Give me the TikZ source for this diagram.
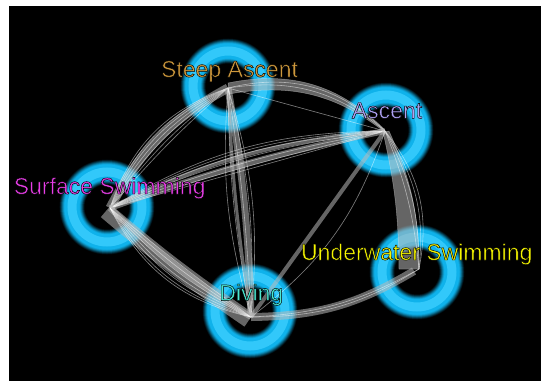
\documentclass[tikz,border=0pt]{standalone}
\usepackage{fontspec}
\setmainfont{Liberation Sans}
\usetikzlibrary{calc}
\definecolor{ringc}{RGB}{15,178,235}
\definecolor{ringhi}{RGB}{50,200,250}
\definecolor{bandgray}{RGB}{185,185,185}
\definecolor{cSA}{RGB}{205,152,60}
\definecolor{cA}{RGB}{175,162,245}
\definecolor{cSS}{RGB}{232,62,232}
\definecolor{cU}{RGB}{245,245,0}
\definecolor{cD}{RGB}{75,232,210}
\newcommand\outl[1]{\special{pdf:literal direct 2 Tr 0.45 w 0 0 0 RG}#1\special{pdf:literal direct 0 Tr}}
\newcommand\glowring[1]{%
  \foreach \w/\c in {25/ringc!8!black,24/ringc!16!black,23/ringc!26!black,22/ringc!36!black,21/ringc!47!black,20/ringc!58!black,19/ringc!68!black,18/ringc!78!black,17/ringc!87!black,16/ringc!94!black,15/ringc,9/ringhi}
    \draw[line width=\w, draw=\c] (#1) circle[radius=35];}
\begin{document}
\begin{tikzpicture}[x=1pt,y=-1pt,
  band/.style={draw=bandgray, line width=#1, draw opacity=0.55, line cap=butt},
  tband/.style={fill=bandgray, fill opacity=0.55, draw=white, draw opacity=0.35, line width=0.5},
  thinw/.style={draw=white, line width=0.6, draw opacity=0.5},
  lbl/.style={font=\fontsize{23}{27}\selectfont, inner sep=0pt, anchor=base}]
\useasboundingbox (0,0) rectangle (541,381);
\fill[white] (0,0) rectangle (541,381);
\fill[black] (8.5,6) rectangle (541,381);
% hubs
\coordinate (SA) at (228,88);
\coordinate (A) at (385,131);
\coordinate (SS) at (110,208);
\coordinate (D) at (251,317);
\coordinate (U) at (419,269);
% ring centres
\coordinate (rSA) at (228,86);
\coordinate (rA) at (386,130);
\coordinate (rSS) at (107,207);
\coordinate (rD) at (250,311);
\coordinate (rU) at (417,272);
\glowring{rSA}\glowring{rA}\glowring{rSS}\glowring{rD}\glowring{rU}
% Steep Ascent -- Ascent
\path[tband] ($(SA)+(0,-5)$) to[bend left=28] ($(A)+(-1,-2)$) -- ($(A)+(1,2)$) to[bend right=24] ($(SA)+(1,6)$) -- cycle;
\draw[thinw] (SA) -- (A);
\foreach \b in {24,29} \draw[thinw] (SA) to[bend left=\b] (A);
% Surface Swimming -- Steep Ascent
\draw[band=9] (SS) to[bend left=17] (SA);
\foreach \b in {4,8,12,16,20,23,26} \draw[thinw] (SS) to[bend left=\b] (SA);
% Steep Ascent -- Diving
\draw[band=7] (SA) to[bend left=4] (D);
\draw[band=3] (SA) to[bend right=3] (D);
\foreach \b in {10,5} \draw[thinw] (SA) to[bend right=\b] (D);
\foreach \b in {3,8,11} \draw[thinw] (SA) to[bend left=\b] (D);
% Surface Swimming -- Ascent
\draw[band=6] (SS) to[bend left=4] (A);
\draw[band=4] (SS) to[bend left=10] (A);
\foreach \b in {0,2,5,8,11,13,15} \draw[thinw] (SS) to[bend left=\b] (A);
% Surface Swimming -- Diving
\draw[band=16] ($(SS)+(-4,3)$) to[bend right=3] ($(D)+(-2,3)$);
\draw[band=6] (SS) to[bend right=6] (D);
\foreach \b in {2,6,10,14,18,22,25} \draw[thinw] (SS) to[bend right=\b] (D);
% Ascent -- Underwater Swimming
\path[tband] ($(A)+(-2,1)$) to[bend left=6] ($(U)+(-20,0)$) -- (U) to[bend right=12] ($(A)+(4,0)$) -- cycle;
\foreach \b in {8,14,20,25} \draw[thinw] (A) to[bend left=\b] (U);
% Ascent -- Diving
\draw[band=4] (A) -- (D);
\draw[thinw] (A) to[bend left=17] (D);
% Diving -- Underwater Swimming
\draw[band=8] (D) to[bend right=15] ($(U)+(-5,2)$);
\foreach \b in {13,16} \draw[thinw] (D) to[bend right=\b] (U);
% labels
\node[lbl, text=cSA] (lSA) at (229.5,77) {\outl{Steep Ascent}};
\node[lbl, text=cA] (lA) at (387,118.3) {\outl{Ascent}};
\node[lbl, text=cSS] (lSS) at (109.6,194) {\outl{Surface Swimming}};
\node[lbl, text=cU] (lU) at (416.7,260) {\outl{Underwater Swimming}};
\node[lbl, text=cD] (lD) at (251.3,300.7) {\outl{Diving}};
\end{tikzpicture}
\end{document}
